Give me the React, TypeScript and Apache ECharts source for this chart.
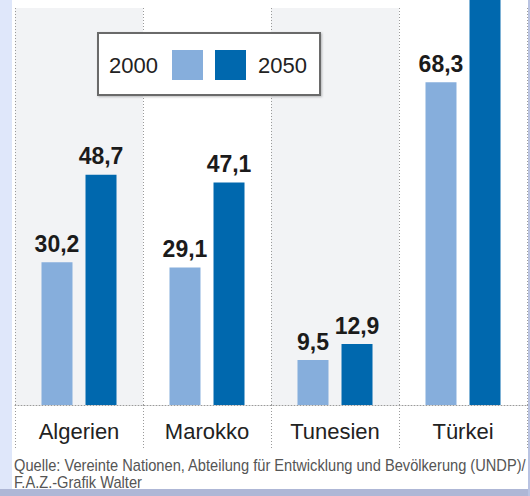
import React, { useEffect, useRef } from "react";
import * as echarts from "echarts";

const categories = ["Algerien", "Marokko", "Tunesien", "Türkei"];
const seriesNames = ["2000", "2050"];
const values2000 = [30.2, 29.1, 9.5, 68.3];
const values2050 = [48.7, 47.1, 12.9, 98.8];
const sourceLines = [
  "Quelle: Vereinte Nationen, Abteilung für Entwicklung und Bevölkerung (UNDP)/",
  "F.A.Z.-Grafik Walter",
];

const FONT = "'Liberation Sans', Arial, Helvetica, sans-serif";
const LIGHT = "#86aedc";
const DARK = "#0068ae";
const DOT = "#9a9a9a";
const Y_MAX = 84;

export default function App() {
  const ref = useRef<HTMLDivElement>(null);
  useEffect(() => {
    if (!ref.current) return;
    const chart = echarts.init(ref.current, undefined, { renderer: "svg" });
    const fmt = (p: any) => String(p.value).replace(".", ",");
    const labelStyle = {
      show: true,
      position: "top",
      distance: 7,
      fontFamily: FONT,
      fontSize: 23,
      fontWeight: "bold",
      color: "#1b1b1b",
      formatter: fmt,
    };
    chart.setOption({
      animation: false,
      backgroundColor: "#dfe7fa",
      textStyle: { fontFamily: FONT },
      grid: { left: 15, right: 3, top: 8, bottom: 91, containLabel: false },
      legend: [
        {
          data: [seriesNames[0]],
          align: "right",
          right: 327,
          top: 50,
          padding: 0,
          itemWidth: 31,
          itemHeight: 30,
          icon: "rect",
          z: 20,
          textStyle: { fontFamily: FONT, fontSize: 22, color: "#222", padding: [0, 9, 0, 0] },
        },
        {
          data: [seriesNames[1]],
          align: "left",
          left: 215,
          top: 50,
          padding: 0,
          itemWidth: 31,
          itemHeight: 30,
          icon: "rect",
          z: 20,
          textStyle: { fontFamily: FONT, fontSize: 22, color: "#222", padding: [0, 0, 0, 7] },
        },
      ],
      xAxis: {
        type: "category",
        data: categories,
        boundaryGap: true,
        axisLine: { show: true, lineStyle: { color: DOT, type: [1, 2], width: 1 } },
        axisTick: {
          show: true,
          interval: 0,
          length: 45,
          lineStyle: { color: DOT, type: [1, 2], width: 1 },
        },
        splitLine: {
          show: true,
          interval: 0,
          lineStyle: { color: DOT, type: [1, 2], width: 1 },
        },
        splitArea: {
          show: true,
          interval: 0,
          areaStyle: { color: ["#f2f3f5", "rgba(255,255,255,0)"] },
        },
        axisLabel: {
          interval: 0,
          margin: 15,
          fontFamily: FONT,
          fontSize: 22,
          color: "#222",
        },
      },
      yAxis: {
        type: "value",
        min: 0,
        max: Y_MAX,
        show: false,
        splitLine: { show: false },
      },
      series: [
        {
          name: seriesNames[0],
          type: "bar",
          data: values2000,
          barWidth: 31,
          barGap: "42%",
          clip: false,
          itemStyle: { color: LIGHT },
          label: labelStyle,
        },
        {
          name: seriesNames[1],
          type: "bar",
          data: values2050.map((v) =>
            v > Y_MAX ? { value: v, label: { show: false } } : v
          ),
          barWidth: 31,
          barGap: "42%",
          clip: false,
          itemStyle: { color: DARK },
          label: labelStyle,
        },
      ],
      graphic: [
        {
          type: "rect",
          z: -10,
          shape: { x: 12, y: 0, width: 516, height: 490 },
          style: { fill: "#ffffff" },
          silent: true,
        },
        {
          type: "rect",
          z: -10,
          shape: { x: 0, y: 489, width: 530, height: 7 },
          style: { fill: "#aeb7d6" },
          silent: true,
        },
        {
          type: "rect",
          z: -10,
          shape: { x: 528, y: 0, width: 2, height: 496 },
          style: { fill: "#b9c3e2" },
          silent: true,
        },
        {
          type: "rect",
          z: 10,
          shape: { x: 98, y: 33, width: 222, height: 62 },
          style: {
            fill: "#ffffff",
            stroke: "#6a6a6a",
            lineWidth: 2,
            shadowBlur: 2,
            shadowColor: "rgba(0,0,0,0.25)",
            shadowOffsetX: 1,
            shadowOffsetY: 1,
          },
          silent: true,
        },
        {
          type: "text",
          z: 10,
          x: 14,
          y: 465,
          scaleX: 0.915,
          style: {
            text: sourceLines[0],
            fontFamily: FONT,
            fontSize: 16,
            fill: "#555",
            verticalAlign: "middle",
          },
        },
        {
          type: "text",
          z: 10,
          x: 14,
          y: 482,
          scaleX: 0.915,
          style: {
            text: sourceLines[1],
            fontFamily: FONT,
            fontSize: 16,
            fill: "#555",
            verticalAlign: "middle",
          },
        },
      ],
    });
    return () => chart.dispose();
  }, []);
  return (
    <div
      ref={ref}
      style={{ position: "absolute", left: 0, top: 0, width: 530, height: 496 }}
    />
  );
}
